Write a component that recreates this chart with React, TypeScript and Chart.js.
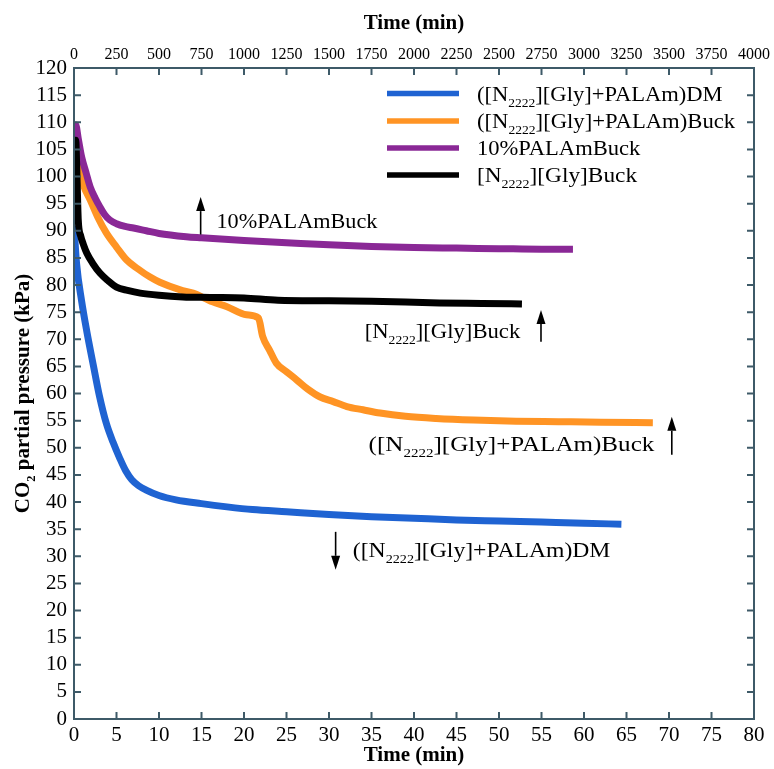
import React, { useEffect, useRef } from "react";
import { Chart, registerables } from "chart.js";
Chart.register(...registerables);

// ---------- data ----------
const seriesLabels = [
  "([N_{2222}][Gly]+PALAm)DM",
  "([N_{2222}][Gly]+PALAm)Buck",
  "10%PALAmBuck",
  "[N_{2222}][Gly]Buck",
];
const seriesColors = ["#1f63d2", "#ff9424", "#8a2896", "#000000"];

const dmTime = [0, 0.3, 0.9, 1.5, 2.3, 3.0, 3.8, 4.6, 5.4, 6.1, 6.8, 7.6, 8.5, 10, 12, 15, 18, 21, 25, 30, 35, 40, 45, 50, 55, 60, 64.4];
const dmKPa = [90.9, 84, 77, 71.5, 65, 59.5, 54.5, 51, 48, 45.7, 44.1, 43, 42.2, 41.2, 40.4, 39.7, 39.1, 38.6, 38.2, 37.7, 37.3, 37.0, 36.7, 36.5, 36.3, 36.1, 35.9];

const buckTime = [0.3, 0.7, 1.2, 1.9, 2.8, 3.8, 5.0, 6.2, 7.5, 8.9, 10.1, 12.5, 14, 16.3, 18, 20.3, 21.7, 22.2, 23, 23.8, 25, 26.2, 27.5, 28.9, 30.5, 32.1, 34, 36, 39, 42.6, 47, 52, 57, 62, 68.1];
const buckKPa = [103, 100.6, 98, 95.7, 92.5, 89.6, 87, 84.6, 83, 81.5, 80.5, 79.1, 78.5, 76.9, 76, 74.5, 73.9, 70.5, 68, 65.6, 64, 62.5, 60.8, 59.4, 58.5, 57.6, 57, 56.4, 55.8, 55.4, 55.1, 54.9, 54.8, 54.7, 54.6];

const palTime = [0, 0.2, 0.5, 0.9, 1.4, 1.9, 2.5, 3.05, 3.6, 4.2, 5, 6, 7, 8.5, 10, 13.2, 15, 20, 25, 30, 35, 40, 45, 50, 55, 58.7];
const palKPa = [108.5, 109.5, 107, 103.6, 100.8, 98.1, 96, 94.4, 93, 92, 91.3, 90.8, 90.5, 90, 89.5, 88.9, 88.7, 88.2, 87.8, 87.4, 87.1, 86.9, 86.8, 86.7, 86.6, 86.6];

const glyTime = [0.05, 0.2, 0.35, 0.5, 0.8, 1.1, 1.5, 2.2, 3.05, 4, 5, 6.3, 7.8, 10, 12.8, 16, 20, 24, 30, 35, 43, 48, 52.7];
const glyKPa = [103, 106.7, 100, 92, 89, 87.5, 85.9, 84, 82.2, 80.8, 79.6, 79, 78.5, 78.1, 77.8, 77.7, 77.6, 77.2, 77.1, 77, 76.7, 76.6, 76.5];

const seriesTimes = [dmTime, buckTime, palTime, glyTime];
const seriesValues = [dmKPa, buckKPa, palKPa, glyKPa];
const seriesOrder = [2, 3, 1, 0];

const xMin = 0, xMax = 80, xStep = 5;
const x2Min = 0, x2Max = 4000, x2Step = 250;
const yMin = 0, yMax = 120, yStep = 5;

const xTitle = "Time (min)";
const x2Title = "Time (min)";
const yTitle = "CO_{2} partial pressure (kPa)";

// annotations: text anchor (time, kPa baseline), arrow (time, from kPa, to kPa)
const annoTexts = ["10%PALAmBuck", "[N_{2222}][Gly]Buck", "([N_{2222}][Gly]+PALAm)Buck", "([N_{2222}][Gly]+PALAm)DM"];
const annoTextT = [16.76, 34.2, 34.66, 32.8];
const annoTextV = [90.5, 70.2, 49.4, 29.9];
const arrowT = [14.9, 54.94, 70.33, 30.78];
const arrowFrom = [89.3, 69.55, 48.7, 34.5];
const arrowTo = [96.2, 75.4, 55.7, 27.5];
const annoStretch = [1.01, 1.03, 1.14, 1.075];
const legendStretch = [1.025, 1.03, 1.025, 1.06];

// ---------- drawing helpers ----------
const FONT = '"Liberation Serif", "Times New Roman", serif';
const FRAME = "#3e5a68";

function parseRich(text: string) {
  const parts: { t: string; sub: boolean }[] = [];
  const re = /_\{([^}]*)\}/g;
  let last = 0;
  let m: RegExpExecArray | null;
  while ((m = re.exec(text))) {
    if (m.index > last) parts.push({ t: text.slice(last, m.index), sub: false });
    parts.push({ t: m[1], sub: true });
    last = re.lastIndex;
  }
  if (last < text.length) parts.push({ t: text.slice(last), sub: false });
  return parts;
}

function measureRich(ctx: CanvasRenderingContext2D, text: string, size: number, weight = "normal") {
  let w = 0;
  for (const p of parseRich(text)) {
    const s = p.sub ? size * 0.6 : size;
    ctx.font = `${weight} ${s}px ${FONT}`;
    w += ctx.measureText(p.t).width;
  }
  return w;
}

function drawRich(ctx: CanvasRenderingContext2D, text: string, x: number, y: number, size: number, weight = "normal", sx = 1) {
  ctx.save();
  ctx.translate(x, y);
  ctx.scale(sx, 1);
  let cx = 0;
  ctx.textAlign = "left";
  ctx.textBaseline = "alphabetic";
  for (const p of parseRich(text)) {
    const s = p.sub ? size * 0.6 : size;
    ctx.font = `${weight} ${s}px ${FONT}`;
    ctx.fillText(p.t, cx, p.sub ? size * 0.28 : 0);
    cx += ctx.measureText(p.t).width;
  }
  ctx.restore();
}

function drawArrow(ctx: CanvasRenderingContext2D, x: number, y0: number, y1: number) {
  const dir = y1 < y0 ? -1 : 1;
  const head = 14;
  ctx.beginPath();
  ctx.moveTo(x, y0);
  ctx.lineTo(x, y1 - dir * head);
  ctx.lineWidth = 1.6;
  ctx.stroke();
  ctx.beginPath();
  ctx.moveTo(x, y1);
  ctx.lineTo(x - 4.5, y1 - dir * head);
  ctx.lineTo(x + 4.5, y1 - dir * head);
  ctx.closePath();
  ctx.fill();
}

const decorPlugin = {
  id: "decor",
  afterDraw(chart: any) {
    const { ctx, chartArea: a, scales } = chart;
    const x = scales.x, x2 = scales.x2, y = scales.y;
    ctx.save();
    // frame
    ctx.strokeStyle = FRAME;
    ctx.lineWidth = 2;
    ctx.strokeRect(a.left, a.top, a.right - a.left, a.bottom - a.top);
    // inward ticks
    const L = 7;
    ctx.beginPath();
    x.ticks.forEach((t: any) => {
      const px = x.getPixelForValue(t.value);
      ctx.moveTo(px, a.bottom);
      ctx.lineTo(px, a.bottom - L);
    });
    x2.ticks.forEach((t: any) => {
      const px = x2.getPixelForValue(t.value);
      ctx.moveTo(px, a.top);
      ctx.lineTo(px, a.top + L);
    });
    y.ticks.forEach((t: any) => {
      const py = y.getPixelForValue(t.value);
      ctx.moveTo(a.left, py);
      ctx.lineTo(a.left + L, py);
      ctx.moveTo(a.right, py);
      ctx.lineTo(a.right - L, py);
    });
    ctx.stroke();

    ctx.fillStyle = "#000";
    ctx.strokeStyle = "#000";
    // titles
    const cxm = (a.left + a.right) / 2;
    const tw = measureRich(ctx, x2Title, 21, "bold");
    drawRich(ctx, x2Title, cxm - tw / 2, 29, 21, "bold");
    const bw = measureRich(ctx, xTitle, 21, "bold");
    drawRich(ctx, xTitle, cxm - bw / 2, 761, 21, "bold");
    ctx.save();
    ctx.translate(29, (a.top + a.bottom) / 2);
    ctx.rotate(-Math.PI / 2);
    const yw = measureRich(ctx, yTitle, 21, "bold");
    drawRich(ctx, yTitle, -yw / 2, 0, 21, "bold");
    ctx.restore();

    // legend
    const legY = [93.5, 121, 148, 175];
    for (let i = 0; i < seriesLabels.length; i++) {
      const ly = legY[i];
      ctx.strokeStyle = seriesColors[i];
      ctx.lineWidth = 5.5;
      ctx.beginPath();
      ctx.moveTo(387, ly);
      ctx.lineTo(459, ly);
      ctx.stroke();
      ctx.fillStyle = "#000";
      drawRich(ctx, seriesLabels[i], 477, ly + 7, 22, "normal", legendStretch[i]);
    }

    // annotations
    ctx.fillStyle = "#000";
    ctx.strokeStyle = "#000";
    for (let i = 0; i < annoTexts.length; i++) {
      drawRich(ctx, annoTexts[i], x.getPixelForValue(annoTextT[i]), y.getPixelForValue(annoTextV[i]), 22, "normal", annoStretch[i]);
      drawArrow(ctx, x.getPixelForValue(arrowT[i]), y.getPixelForValue(arrowFrom[i]), y.getPixelForValue(arrowTo[i]));
    }
    ctx.restore();
  },
};

export default function App() {
  const ref = useRef<HTMLCanvasElement>(null);
  useEffect(() => {
    document.body.style.margin = "0";
    const canvas = ref.current!;
    const datasets = seriesLabels.map((label, i) => ({
      label,
      data: seriesTimes[i].map((t, k) => ({ x: t, y: seriesValues[i][k] })),
      borderColor: seriesColors[i],
      backgroundColor: seriesColors[i],
      borderWidth: 7,
      pointRadius: 0,
      cubicInterpolationMode: "monotone" as const,
      order: seriesOrder[i],
      xAxisID: "x",
      yAxisID: "y",
    }));
    const tickFont = { family: FONT, size: 21 };
    const plain = (v: any) => String(v);
    const chart = new Chart(canvas, {
      type: "line",
      data: { datasets },
      options: {
        animation: false,
        responsive: false,
        layout: { padding: 0 },
        plugins: { legend: { display: false }, tooltip: { enabled: false } },
        scales: {
          x: {
            type: "linear",
            position: "bottom",
            min: xMin,
            max: xMax,
            grid: { display: false, drawTicks: false },
            border: { display: false },
            ticks: { stepSize: xStep, autoSkip: false, maxRotation: 0, color: "#000", font: tickFont, padding: 4, callback: plain },
            afterFit: (s: any) => { s.height = 50; },
          },
          x2: {
            type: "linear",
            position: "top",
            min: x2Min,
            max: x2Max,
            grid: { display: false, drawTicks: false },
            border: { display: false },
            ticks: { stepSize: x2Step, autoSkip: false, maxRotation: 0, color: "#000", font: { family: FONT, size: 16 }, padding: 4, callback: plain },
            afterFit: (s: any) => { s.height = 68; },
          },
          y: {
            type: "linear",
            position: "left",
            min: yMin,
            max: yMax,
            grid: { display: false, drawTicks: false },
            border: { display: false },
            ticks: { stepSize: yStep, autoSkip: false, color: "#000", font: tickFont, padding: 7, callback: plain },
            afterFit: (s: any) => { s.width = 74; },
          },
          y2: {
            type: "linear",
            position: "right",
            min: yMin,
            max: yMax,
            grid: { display: false, drawTicks: false },
            border: { display: false },
            ticks: { display: false, stepSize: yStep },
            afterFit: (s: any) => { s.width = 19; },
          },
        },
      },
      plugins: [decorPlugin],
    });
    return () => chart.destroy();
  }, []);
  return (
    <div style={{ position: "absolute", left: 0, top: 0, width: 774, height: 769, background: "#fff" }}>
      <canvas ref={ref} width={774} height={769} style={{ width: 774, height: 769, display: "block" }} />
    </div>
  );
}
